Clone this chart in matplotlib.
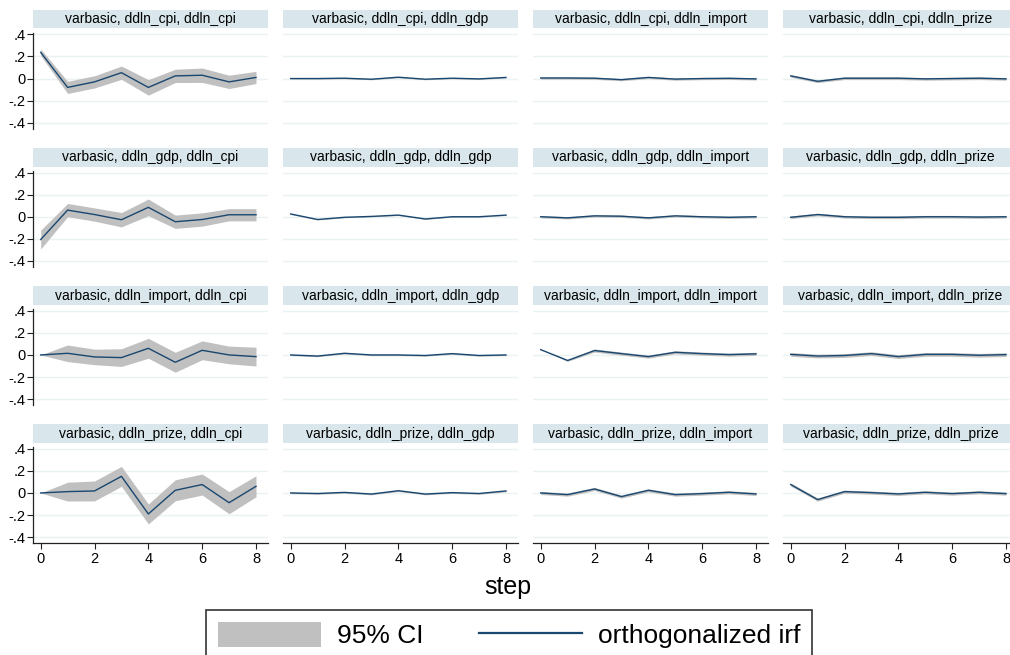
import matplotlib
matplotlib.use("Agg")
import matplotlib.pyplot as plt
from matplotlib.patches import Patch
from matplotlib.lines import Line2D

plt.rcParams['font.family'] = ['Liberation Sans', 'DejaVu Sans']

steps = [0, 1, 2, 3, 4, 5, 6, 7, 8]
variables = ['ddln_cpi', 'ddln_gdp', 'ddln_import', 'ddln_prize']
yticks = [-0.4, -0.2, 0, 0.2, 0.4]
ytick_labels = ['-.4', '-.2', '0', '.2', '.4']
xticks = [0, 2, 4, 6, 8]

# orthogonalized irf: rows = impulse, inner lists = response (cpi, gdp, import, prize)
irf_cpi = [
    [0.237, -0.080, -0.030, 0.053, -0.080, 0.024, 0.030, -0.030, 0.010],
    [0.000, 0.000, 0.003, -0.006, 0.012, -0.006, 0.003, -0.003, 0.010],
    [0.005, 0.005, 0.003, -0.010, 0.010, -0.005, 0.000, 0.002, -0.003],
    [0.024, -0.025, 0.003, 0.003, 0.003, -0.003, 0.000, 0.003, -0.003],
]
irf_gdp = [
    [-0.206, 0.060, 0.020, -0.027, 0.085, -0.045, -0.025, 0.018, 0.018],
    [0.025, -0.025, -0.005, 0.003, 0.015, -0.020, 0.000, 0.000, 0.015],
    [0.000, -0.010, 0.008, 0.005, -0.010, 0.008, 0.000, -0.005, 0.000],
    [-0.005, 0.020, 0.000, -0.005, -0.005, 0.000, 0.000, -0.003, 0.000],
]
irf_import = [
    [0.000, 0.015, -0.018, -0.024, 0.060, -0.066, 0.042, 0.000, -0.015],
    [0.000, -0.010, 0.015, 0.000, 0.000, -0.005, 0.012, -0.005, 0.000],
    [0.048, -0.050, 0.040, 0.012, -0.015, 0.024, 0.012, 0.003, 0.010],
    [0.005, -0.010, -0.005, 0.012, -0.015, 0.005, 0.005, -0.003, 0.003],
]
irf_prize = [
    [0.000, 0.012, 0.018, 0.150, -0.190, 0.024, 0.076, -0.088, 0.060],
    [0.000, -0.005, 0.005, -0.010, 0.020, -0.010, 0.003, -0.005, 0.018],
    [0.000, -0.015, 0.036, -0.033, 0.024, -0.015, -0.006, 0.006, -0.009],
    [0.076, -0.060, 0.012, 0.003, -0.009, 0.006, -0.006, 0.006, -0.006],
]
# 95% CI half-widths
ci_cpi = [
    [0.030, 0.055, 0.055, 0.060, 0.070, 0.060, 0.065, 0.060, 0.055],
    [0.004, 0.005, 0.005, 0.005, 0.005, 0.005, 0.005, 0.005, 0.005],
    [0.010, 0.010, 0.010, 0.010, 0.010, 0.010, 0.010, 0.010, 0.010],
    [0.012, 0.012, 0.012, 0.012, 0.012, 0.012, 0.012, 0.012, 0.012],
]
ci_gdp = [
    [0.085, 0.060, 0.060, 0.065, 0.075, 0.060, 0.060, 0.055, 0.055],
    [0.004, 0.004, 0.004, 0.004, 0.004, 0.004, 0.004, 0.004, 0.004],
    [0.010, 0.010, 0.010, 0.010, 0.010, 0.010, 0.010, 0.010, 0.010],
    [0.012, 0.012, 0.012, 0.012, 0.012, 0.012, 0.012, 0.012, 0.012],
]
ci_import = [
    [0.000, 0.075, 0.070, 0.080, 0.090, 0.090, 0.085, 0.080, 0.085],
    [0.006, 0.006, 0.006, 0.006, 0.006, 0.006, 0.006, 0.006, 0.006],
    [0.000, 0.008, 0.014, 0.014, 0.014, 0.014, 0.014, 0.014, 0.014],
    [0.017, 0.017, 0.017, 0.017, 0.017, 0.017, 0.017, 0.017, 0.017],
]
ci_prize = [
    [0.000, 0.085, 0.090, 0.090, 0.090, 0.095, 0.095, 0.100, 0.095],
    [0.007, 0.007, 0.007, 0.007, 0.007, 0.007, 0.007, 0.007, 0.007],
    [0.014, 0.014, 0.014, 0.014, 0.014, 0.014, 0.014, 0.014, 0.014],
    [0.014, 0.014, 0.014, 0.014, 0.014, 0.014, 0.014, 0.014, 0.014],
]

irf_all = [irf_cpi, irf_gdp, irf_import, irf_prize]
ci_all = [ci_cpi, ci_gdp, ci_import, ci_prize]

LINE = '#1A476F'
CI_C = '#C0C0C0'
STRIP = '#D9E6EB'
GRID = '#EAF2F3'

W, H = 1010, 655
fig = plt.figure(figsize=(W / 100, H / 100), dpi=100)
fig.patch.set_facecolor('white')


def rect(l, t, w, h):
    return [l / W, 1 - (t + h) / H, w / W, h / H]


col_left = [33, 283, 533, 783]
row_top4 = [34.3, 172.5, 310.7, 448.7]
PW = 235
px_per = 88.5 / 0.8
x_per = 215.3 / 8

for i in range(4):
    for j in range(4):
        l = col_left[j]
        y4 = row_top4[i]
        top = y4 - 1.5
        hgt = 96.0
        ax = fig.add_axes(rect(l, top, PW, hgt))
        ax.set_facecolor('white')
        ax.set_ylim(-0.4 - (hgt - 1.5 - 88.5) / px_per, 0.4 + 1.5 / px_per)
        ax.set_xlim(-7.7 / x_per, 8 + (PW - 7.7 - 215.3) / x_per)
        for yv in yticks:
            ax.axhline(yv, color=GRID, lw=1.0, zorder=0)
        vals = irf_all[i][j]
        cis = ci_all[i][j]
        lo = [v - c for v, c in zip(vals, cis)]
        hi = [v + c for v, c in zip(vals, cis)]
        ax.fill_between(steps, lo, hi, color=CI_C, lw=0, zorder=1)
        ax.plot(steps, vals, color=LINE, lw=1.0, zorder=2)
        for s in ['top', 'right']:
            ax.spines[s].set_visible(False)
        ax.spines['left'].set_visible(j == 0)
        ax.spines['bottom'].set_visible(i == 3)
        ax.spines['left'].set_color('#222222')
        ax.spines['bottom'].set_color('#222222')
        ax.spines['left'].set_linewidth(0.9)
        ax.spines['bottom'].set_linewidth(0.9)
        if j == 0:
            ax.set_yticks(yticks)
            ax.set_yticklabels(ytick_labels, fontsize=10.5)
            ax.tick_params(axis='y', length=4, width=0.8, pad=1.5, color='#222222')
        else:
            ax.set_yticks([])
        if i == 3:
            ax.set_xticks(xticks)
            ax.set_xticklabels([str(x) for x in xticks], fontsize=10.5)
            ax.tick_params(axis='x', length=4, width=0.8, pad=2, color='#222222')
        else:
            ax.set_xticks([])
        # strip title
        sax = fig.add_axes(rect(l, y4 - 24.3, PW, 18.3))
        sax.set_facecolor(STRIP)
        for s in sax.spines.values():
            s.set_visible(False)
        sax.set_xticks([])
        sax.set_yticks([])
        title = 'varbasic, %s, %s' % (variables[i], variables[j])
        sax.text(0.5, 0.5, title, ha='center', va='center',
                 fontsize=10, transform=sax.transAxes)

fig.text(508 / W, 1 - 587 / H, 'step', ha='center', va='center', fontsize=18)

handles = [Patch(facecolor=CI_C, edgecolor='none'),
           Line2D([0], [0], color=LINE, lw=1.6)]
labels = ['95% CI', 'orthogonalized irf']
leg = fig.legend(handles, labels, loc='upper left',
                 bbox_to_anchor=(206 / W, 1 - 611 / H, 606 / W, 0.001),
                 mode='expand', ncol=2, frameon=True, fancybox=False,
                 edgecolor='black', fontsize=19, handlelength=3.9,
                 handleheight=1.05, handletextpad=0.6, borderpad=0.45,
                 borderaxespad=0, columnspacing=1.5)
leg.get_frame().set_linewidth(1.2)

fig.savefig('out.png', dpi=100, facecolor='white')
